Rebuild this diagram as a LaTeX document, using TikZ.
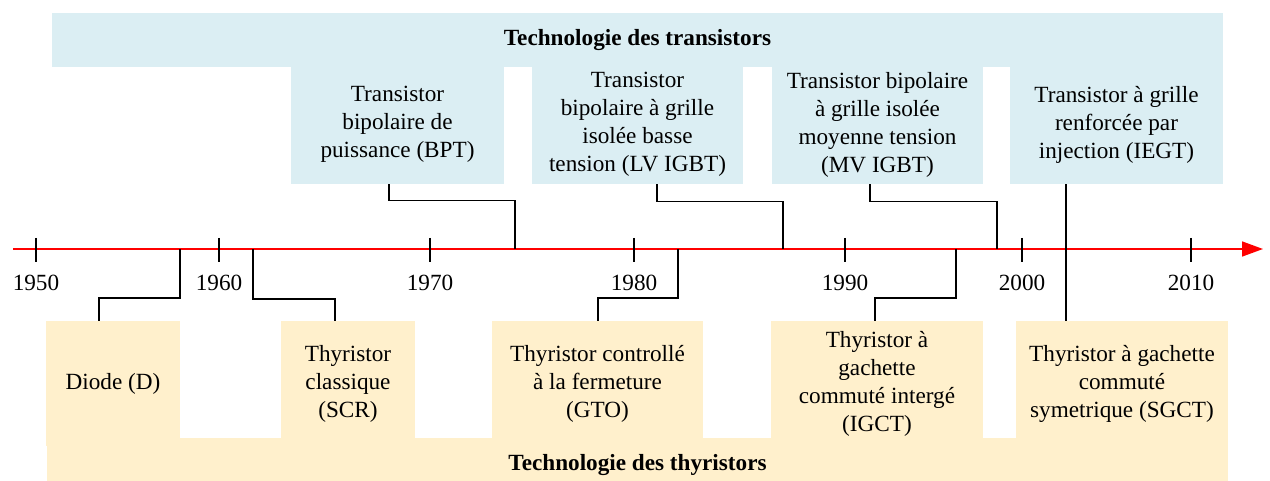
\documentclass[tikz,border=0pt]{standalone}
\usepackage{fontspec}
\setmainfont{Liberation Serif}
\usepackage{xcolor}
\usetikzlibrary{arrows.meta, positioning, calc}

\definecolor{trblue}{HTML}{DBEEF3}
\definecolor{thyel}{HTML}{FFF0CC}

\begin{document}
\begin{tikzpicture}[
    x=1pt, y=-1pt,
    every node/.style={font=\fontsize{23.2}{28}\selectfont},
    tbox/.style={rectangle, fill=trblue, inner sep=0pt, minimum height=119pt, align=center},
    ybox/.style={rectangle, fill=thyel, inner sep=0pt, minimum height=125pt, align=center},
    band/.style={rectangle, inner sep=0pt, minimum height=54pt, align=center},
    axis/.style={red, line width=1.6pt, -{Triangle[length=21pt, width=15pt]}},
    tick/.style={black, line width=1.3pt},
    conn/.style={black, line width=1.3pt},
    year/.style={inner sep=0pt}
]
    \useasboundingbox (0,0) rectangle (1270,481);

    % Transistors
    \node[band, fill=trblue, minimum width=1171pt] (tband) at (637.5,40) {\textbf{Technologie des transistors}};
    \node[tbox, minimum width=213pt] (bpt) at (397.5,124.5) {Transistor\\bipolaire de\\puissance (BPT)};
    \node[tbox, minimum width=211pt] (lv) at (637.5,124.5) {Transistor\\bipolaire à grille\\isolée basse\\tension (LV IGBT)};
    \node[tbox, minimum width=211pt] (mv) at (877.5,124.5) {Transistor bipolaire\\à grille isolée\\moyenne tension\\(MV IGBT)};
    \node[tbox, minimum width=213pt] (iegt) at (1116.5,124.5) {Transistor à grille\\renforcée par\\injection (IEGT)};

    % Thyristors
    \node[band, fill=thyel, minimum width=1181pt] (yband) at (637.5,465) {\textbf{Technologie des thyristors}};
    \node[ybox, minimum width=134pt] (diode) at (113,383.5) {Diode (D)};
    \node[ybox, minimum width=134pt] (scr) at (348,383.5) {Thyristor\\classique\\(SCR)};
    \node[ybox, minimum width=211pt] (gto) at (597.5,383.5) {Thyristor controllé\\à la fermeture\\(GTO)};
    \node[ybox, minimum width=212pt] (igct) at (877,383.5) {Thyristor à\\gachette\\commuté intergé\\(IGCT)};
    \node[ybox, minimum width=212pt] (sgct) at (1122,383.5) {Thyristor à gachette\\commuté\\symetrique (SGCT)};

    % Time axis
    \coordinate (start) at (13,249);
    \coordinate (end) at (1263,249);
    \draw[axis] (start) -- (end);
    \foreach \xx/\yr in {36/1950, 219/1960, 430/1970, 634/1980, 845/1990, 1022/2000, 1191/2010}{
        \draw[tick] (\xx,238) -- (\xx,262);
        \node[year] (y\yr) at (\xx,283) {\yr};
    }

    % Points on the axis
    \coordinate (pdiode) at (180,249);
    \coordinate (pscr) at (253,249);
    \coordinate (pbpt) at (515,249);
    \coordinate (pgto) at (678,249);
    \coordinate (plv) at (783,249);
    \coordinate (pigct) at (956,249);
    \coordinate (pmv) at (997,249);
    \coordinate (piegt) at (1066,249);

    % Connectors
    \draw[conn] ([xshift=-8.5pt]bpt.south) -- ++(0,16) -| (pbpt);
    \draw[conn] ([xshift=19.5pt]lv.south) -- ++(0,17) -| (plv);
    \draw[conn] ([xshift=-7.5pt]mv.south) -- ++(0,17) -| (pmv);
    \draw[conn] ([xshift=-50.5pt]iegt.south) -- (piegt);
    \draw[conn] (pdiode) -- ++(0,49) -| ([xshift=-14pt]diode.north);
    \draw[conn] (pscr) -- ++(0,50) -| ([xshift=-13pt]scr.north);
    \draw[conn] (pgto) -- ++(0,49) -| ([xshift=0.5pt]gto.north);
    \draw[conn] (pigct) -- ++(0,49) -| ([xshift=-2pt]igct.north);
    \draw[conn] (piegt) -- ([xshift=-56pt]sgct.north);
\end{tikzpicture}
\end{document}
